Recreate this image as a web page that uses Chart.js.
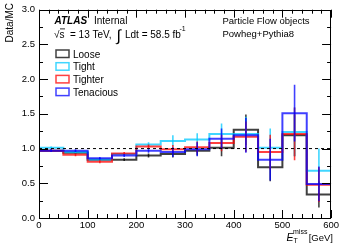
<!DOCTYPE html>
<html>
<head>
<meta charset="utf-8">
<script src="https://cdn.jsdelivr.net/npm/chart.js@4/dist/chart.umd.min.js"></script>
<style>
html,body{margin:0;padding:0;background:#fff;}
#c{display:block;}
</style>
</head>
<body>
<canvas id="c" width="341" height="243" style="width:341px;height:243px"></canvas>
<script>
// ---- data ----
const binEdges = [0, 50, 100, 150, 200, 250, 300, 350, 400, 450, 500, 550, 600];
const seriesNames = ["Loose", "Tight", "Tighter", "Tenacious"];
const loose     = [0.97, 0.94, 0.84, 0.84, 0.90, 0.92, 0.97, 1.01, 1.27, 0.73, 1.19, 0.34];
const tight     = [1.01, 0.95, 0.84, 0.92, 1.06, 1.11, 1.13, 1.21, 1.21, 1.01, 1.24, 0.68];
const tighter   = [0.97, 0.91, 0.81, 0.93, 1.03, 0.99, 1.02, 1.08, 1.17, 0.95, 1.21, 0.48];
const tenacious = [0.97, 0.97, 0.86, 0.90, 0.97, 0.95, 0.99, 1.14, 1.19, 0.84, 1.51, 0.49];
const looseErr     = [0.02, 0.02, 0.02, 0.02, 0.03, 0.05, 0.07, 0.12, 0.22, 0.20, 0.30, 0.19];
const tightErr     = [0.02, 0.02, 0.02, 0.02, 0.03, 0.08, 0.09, 0.15, 0.25, 0.28, 0.35, 0.32];
const tighterErr   = [0.02, 0.02, 0.02, 0.02, 0.03, 0.06, 0.08, 0.12, 0.22, 0.25, 0.38, 0.25];
const tenaciousErr = [0.02, 0.02, 0.02, 0.02, 0.03, 0.07, 0.10, 0.15, 0.25, 0.30, 0.41, 0.25];
const yTicks = [0, 0.5, 1.0, 1.5, 2.0, 2.5, 3.0];
const xTicks = [0, 100, 200, 300, 400, 500, 600];
const referenceLine = 1.0;

const colors = ["rgba(0,0,0,0.75)", "rgba(0,200,255,0.75)", "rgba(255,0,0,0.75)", "rgba(0,0,255,0.75)"];
const values = [loose, tight, tighter, tenacious];
const errors = [looseErr, tightErr, tighterErr, tenaciousErr];

function stepData(v) {
  const pts = v.map((y, i) => ({x: binEdges[i], y: y}));
  pts.push({x: binEdges[binEdges.length - 1], y: v[v.length - 1]});
  return pts;
}
function errData(v, e) {
  const pts = [];
  v.forEach((y, i) => {
    const c = (binEdges[i] + binEdges[i + 1]) / 2;
    pts.push({x: c, y: y - e[i]}, {x: c, y: y + e[i]}, {x: c, y: null});
  });
  return pts;
}

const datasets = [];
values.forEach((v, k) => {
  datasets.push({
    label: seriesNames[k], data: stepData(v), stepped: 'before',
    borderColor: colors[k], borderWidth: 2, pointRadius: 0, fill: false,
    order: 10 - 2 * k, isHist: true
  });
  datasets.push({
    label: seriesNames[k] + " err", data: errData(v, errors[k]),
    borderColor: colors[k], borderWidth: 1.6, pointRadius: 0, fill: false,
    spanGaps: false, order: 9 - 2 * k
  });
});
datasets.push({
  label: "ref", data: [{x: binEdges[0], y: referenceLine}, {x: binEdges[binEdges.length - 1], y: referenceLine}],
  borderColor: "#000", borderWidth: 1, borderDash: [3, 3], pointRadius: 0, fill: false, order: 0
});

const FONT = "'Liberation Sans', Arial, Helvetica, sans-serif";

const framePlugin = {
  id: 'frame',
  afterDatasetsDraw(chart) {
    const ctx = chart.ctx, a = chart.chartArea;
    const xs = chart.scales.x, ys = chart.scales.y;
    ctx.save();
    ctx.strokeStyle = "#000";
    ctx.lineWidth = 1;
    ctx.strokeRect(Math.round(a.left) + 0.5, Math.round(a.top) + 0.5, Math.round(a.right - a.left) - 1, Math.round(a.bottom - a.top));
    ctx.beginPath();
    for (let v = 0; v <= 600; v += 20) {
      const px = Math.round(xs.getPixelForValue(v)) + 0.5;
      const len = (v % 100 === 0) ? 8 : 4;
      ctx.moveTo(px, a.bottom); ctx.lineTo(px, a.bottom - len);
      ctx.moveTo(px, a.top); ctx.lineTo(px, a.top + len);
    }
    for (let i = 0; i <= 12; i++) {
      const v = i * 0.25;
      const py = Math.round(ys.getPixelForValue(v)) + 0.5;
      const len = (i % 2 === 0) ? 9 : 4;
      ctx.moveTo(a.left, py); ctx.lineTo(a.left + len, py);
      ctx.moveTo(a.right, py); ctx.lineTo(a.right - len, py);
    }
    ctx.stroke();
    ctx.restore();
  },
  afterDraw(chart) {
    const ctx = chart.ctx;
    ctx.save();
    ctx.fillStyle = "#000";
    ctx.textBaseline = "alphabetic";
    ctx.textAlign = "left";
    // ATLAS Internal
    ctx.font = "italic bold 10px " + FONT;
    ctx.fillText("ATLAS", 54.5, 23.5);
    ctx.font = "10px " + FONT;
    ctx.fillText("Internal", 94, 23.5);
    // sqrt(s) line
    ctx.font = "10px " + FONT;
    ctx.fillText("\u221As", 54, 37.5);
    ctx.fillRect(60, 28.5, 5, 0.8);
    ctx.fillText("= 13 TeV,", 70, 37.5);
    ctx.font = "16px " + FONT;
    ctx.fillText("\u222B", 116.5, 41);
    ctx.font = "10px " + FONT;
    ctx.fillText("Ldt = 58.5 fb", 125, 37.5);
    ctx.font = "7px " + FONT;
    ctx.fillText("-1", 179.5, 31);
    // right texts
    ctx.font = "9.5px " + FONT;
    ctx.fillText("Particle Flow objects", 222.5, 23.5);
    ctx.fillText("Powheg+Pythia8", 222.5, 37);
    // legend
    const hist = chart.data.datasets.filter(d => d.isHist);
    hist.forEach((d, i) => {
      const y0 = 50 + i * 12.7;
      ctx.strokeStyle = d.borderColor;
      ctx.lineWidth = 1.5;
      ctx.strokeRect(56, y0, 13, 7.5);
      ctx.fillStyle = "#000";
      ctx.font = "10px " + FONT;
      ctx.fillText(d.label, 73, y0 + 7.5);
    });
    // x title
    ctx.fillStyle = "#000";
    ctx.font = "italic 10.5px " + FONT;
    ctx.fillText("E", 286.5, 240.5);
    ctx.font = "7px " + FONT;
    ctx.fillText("miss", 293, 233.5);
    ctx.fillText("T", 293.5, 243);
    ctx.font = "9.5px " + FONT;
    ctx.textAlign = "right";
    ctx.fillText("[GeV]", 333, 240.5);
    // y title
    ctx.translate(10, 3);
    ctx.rotate(-Math.PI / 2);
    ctx.textAlign = "right";
    ctx.textBaseline = "middle";
    ctx.font = "10px " + FONT;
    ctx.fillText("Data/MC", 0, 0);
    ctx.restore();
  }
};

new Chart(document.getElementById('c'), {
  type: 'line',
  data: {datasets: datasets},
  options: {
    responsive: false,
    devicePixelRatio: 1,
    animation: false,
    layout: {padding: {top: 9, right: 8, left: 0, bottom: 0}},
    plugins: {legend: {display: false}, tooltip: {enabled: false}},
    scales: {
      x: {
        type: 'linear', min: 0, max: 600,
        afterBuildTicks(s) { s.ticks = xTicks.map(v => ({value: v})); },
        ticks: {color: "#000", font: {family: FONT, size: 9.5}, padding: 2, maxRotation: 0, autoSkip: false,
                callback: v => String(v)},
        grid: {display: false, drawTicks: false},
        border: {display: false},
        afterFit(s) { s.height = 25; }
      },
      y: {
        min: 0, max: 3,
        afterBuildTicks(s) { s.ticks = yTicks.map(v => ({value: v})); },
        ticks: {color: "#000", font: {family: FONT, size: 9.5}, padding: 4,
                callback: v => Number(v).toFixed(1)},
        grid: {display: false, drawTicks: false},
        border: {display: false},
        afterFit(s) { s.width = 39; }
      }
    }
  },
  plugins: [framePlugin]
});
</script>
</body>
</html>
